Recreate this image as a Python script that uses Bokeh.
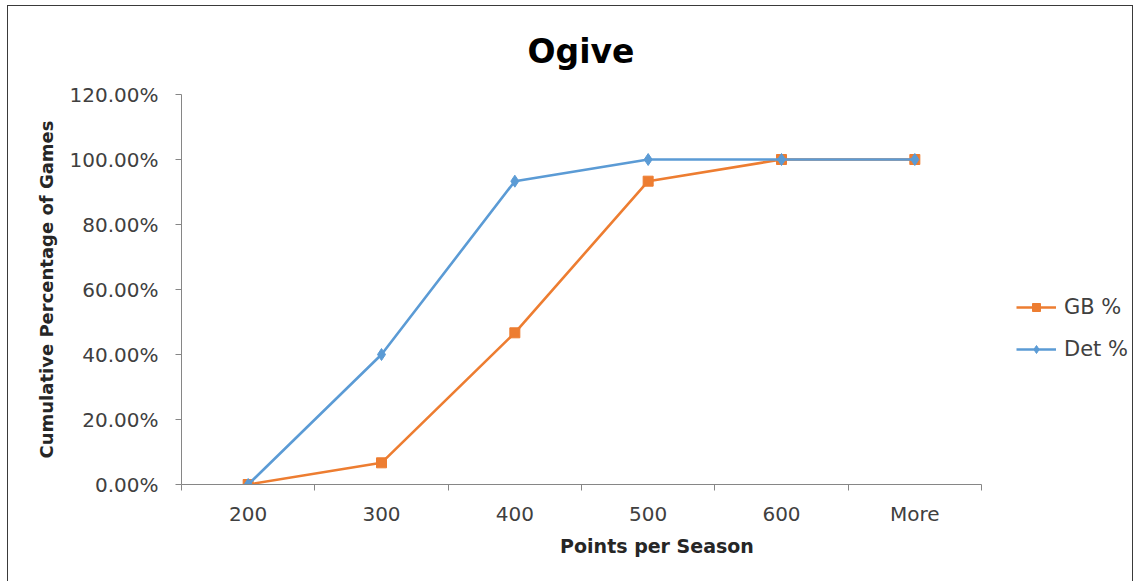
from bokeh.plotting import figure
from bokeh.models import FixedTicker, NumeralTickFormatter, Legend, LegendItem, Range1d
from bokeh.embed import file_html
from bokeh.resources import INLINE

categories = ["200", "300", "400", "500", "600", "More"]
gb_pct = [0.0, 0.0667, 0.4667, 0.9333, 1.0, 1.0]
det_pct = [0.0, 0.40, 0.9333, 1.0, 1.0, 1.0]
y_ticks = [0.0, 0.2, 0.4, 0.6, 0.8, 1.0, 1.2]

FONT = "DejaVu Sans"
xs = list(range(len(categories)))

W, H = 1126, 576
LEFT, RIGHT, TOP, BOTTOM = 173, 2, 88, 98
PLOT_W = 800  # width occupied by the category axis
frame_w = W - LEFT - RIGHT
x0 = -0.5
x1 = len(categories) - 0.5
x_end = x0 + (x1 - x0) * frame_w / PLOT_W

p = figure(width=W, height=H, output_backend="svg", toolbar_location=None,
           x_range=Range1d(x0, x_end), y_range=Range1d(0, 1.2),
           min_border_left=LEFT, min_border_right=RIGHT, min_border_top=TOP, min_border_bottom=BOTTOM,
           title="Ogive")
p.styles = {"border-left": "1px solid #3a3a3a", "border-top": "1px solid #3a3a3a",
            "border-right": "1px solid #3a3a3a", "margin-left": "7px", "margin-top": "5px"}
p.outline_line_color = None
p.xgrid.grid_line_color = None
p.ygrid.grid_line_color = None

p.title.align = "left"
p.title.vertical_align = "top"
p.title.text_font = FONT
p.title.text_font_size = "33px"
p.title.text_font_style = "bold"
p.title.text_color = "#000000"
p.title.offset = 346
p.title.standoff = 44

# x axis
p.xaxis.bounds = (x0, x1)
p.xaxis.ticker = FixedTicker(ticks=xs, minor_ticks=[i - 0.5 for i in range(len(categories) + 1)])
p.xaxis.major_label_overrides = {i: c for i, c in enumerate(categories)}
p.xaxis.major_tick_out = 0
p.xaxis.major_tick_in = 0
p.xaxis.minor_tick_out = 6
p.xaxis.minor_tick_in = 0
p.xaxis.axis_line_color = "#868686"
p.xaxis.minor_tick_line_color = "#868686"
p.xaxis.major_label_text_font = FONT
p.xaxis.major_label_text_font_size = "20px"
p.xaxis.major_label_text_color = "#404040"
p.xaxis.major_label_standoff = 11
p.xaxis.axis_label = "Points per Season"
p.xaxis.axis_label_text_font = FONT
p.xaxis.axis_label_text_font_size = "19px"
p.xaxis.axis_label_text_font_style = "bold"
p.xaxis.axis_label_text_color = "#262626"
p.xaxis.axis_label_standoff = 6

# y axis
p.yaxis.ticker = FixedTicker(ticks=y_ticks)
p.yaxis.formatter = NumeralTickFormatter(format="0.00%")
p.yaxis.major_tick_out = 6
p.yaxis.major_tick_in = 0
p.yaxis.minor_tick_line_color = None
p.yaxis.axis_line_color = "#868686"
p.yaxis.major_tick_line_color = "#868686"
p.yaxis.major_label_text_font = FONT
p.yaxis.major_label_text_font_size = "20px"
p.yaxis.major_label_text_color = "#404040"
p.yaxis.major_label_standoff = 17
p.yaxis.axis_label = "Cumulative Percentage of Games"
p.yaxis.axis_label_text_font = FONT
p.yaxis.axis_label_text_font_size = "18px"
p.yaxis.axis_label_text_font_style = "bold"
p.yaxis.axis_label_text_color = "#262626"
p.yaxis.axis_label_standoff = 10

orange = "#ED7D31"
blue = "#5B9BD5"

gl = p.line(xs, gb_pct, line_color=orange, line_width=2.6)
gm = p.scatter(xs, gb_pct, marker="square", size=10, fill_color=orange, line_color=orange)
dl = p.line(xs, det_pct, line_color=blue, line_width=2.6)
dm = p.scatter(xs, det_pct, marker="diamond", size=12, fill_color=blue, line_color=blue)

legend = Legend(items=[LegendItem(label="GB %", renderers=[gl, gm]),
                       LegendItem(label="Det %", renderers=[dl, dm])],
                location=(835, 123))
legend.border_line_color = None
legend.background_fill_alpha = 0
legend.glyph_width = 40
legend.label_text_font = FONT
legend.label_text_font_size = "21px"
legend.label_text_color = "#404040"
legend.spacing = 18
legend.label_standoff = 8
legend.padding = 0
legend.margin = 0
p.add_layout(legend, "center")

open("out.html", "w").write(file_html(p, INLINE))
